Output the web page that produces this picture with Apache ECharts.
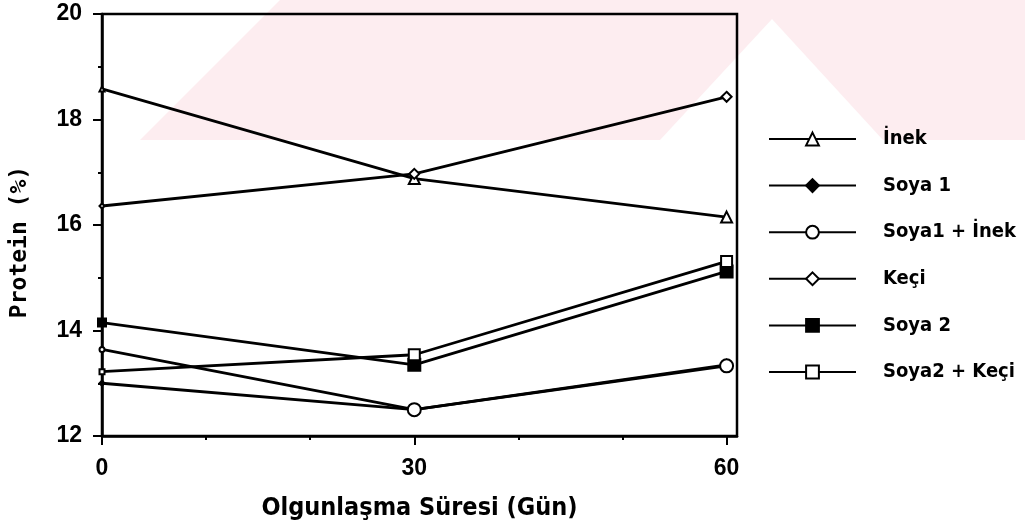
<!DOCTYPE html>
<html>
<head>
<meta charset="utf-8">
<script src="https://cdn.jsdelivr.net/npm/echarts@6/dist/echarts.min.js"></script>
<style>
  html, body { margin: 0; padding: 0; background: #fff; }
  #chart { width: 1025px; height: 529px; }
</style>
</head>
<body>
<div id="chart"></div>
<script>
// olgunlaşma süresi (gün)
const days = [0, 30, 60];
const xLabelTicks = [0, 30, 60];
const xMinorTicks = [10, 20, 40, 50];

// protein (%)
const inek = [18.58, 16.88, 16.15];
const soya1 = [13.0, 12.5, 13.35];
const soya1Inek = [13.64, 12.5, 13.33];
const keci = [16.36, 16.97, 18.43];
const soya2 = [14.15, 13.35, 15.12];
const soya2Keci = [13.22, 13.54, 15.31];

const names = ["İnek", "Soya 1", "Soya1 + İnek", "Keçi", "Soya 2", "Soya2 + Keçi"];

const chart = echarts.init(document.getElementById("chart"));

// x=0 noktaları eksen çizgisinin altında kalıyor, orada küçük çiz
const makeSeries = (name, vals, symbol, size, edgeSize, filled) => ({
  name: name,
  type: "line",
  data: days.map((d, i) => ({
    value: [d, vals[i]],
    symbolSize: i === 0 ? edgeSize : size,
  })),
  symbol: symbol,
  symbolSize: size,
  showAllSymbol: true,
  clip: false,
  lineStyle: { color: "#000", width: 2.8 },
  itemStyle: {
    color: filled ? "#000" : "#fff",
    borderColor: "#000",
    borderWidth: 2,
  },
  emphasis: { disabled: true },
});

chart.setOption({
  animation: false,
  backgroundColor: "#fff",
  graphic: {
    elements: [
      {
        // soluk arka plan filigranı
        type: "polygon",
        z: -100,
        silent: true,
        shape: {
          points: [
            [140, 140], [280, 0], [1025, 0], [1025, 140],
            [883, 140], [772, 19], [660, 140],
          ],
        },
        style: { fill: "#fdedf0" },
      },
    ],
  },
  grid: {
    left: 102,
    top: 14,
    right: 288,
    bottom: 93,
    show: true,
    borderColor: "#000",
    borderWidth: 2.5,
    backgroundColor: "transparent",
  },
  legend: {
    orient: "vertical",
    left: 768,
    top: 129,
    padding: 0,
    itemWidth: 87,
    itemHeight: 16,
    itemGap: 26.6,
    data: names,
    selectedMode: false,
    textStyle: {
      color: "#000",
      fontSize: 20,
      fontWeight: "bold",
      fontFamily: "DejaVu Sans Condensed",
      padding: [0, 0, 0, 22],
    },
  },
  xAxis: [
    {
      type: "value",
      min: 0,
      max: 61,
      name: "Olgunlaşma Süresi (Gün)",
      nameLocation: "middle",
      nameGap: 60,
      nameTextStyle: {
        color: "#000",
        fontSize: 25,
        fontWeight: "bold",
        fontFamily: "DejaVu Sans Condensed",
      },
      axisLine: { lineStyle: { color: "#000", width: 2.5 } },
      axisTick: {
        length: 9,
        customValues: xLabelTicks,
        lineStyle: { color: "#000", width: 2 },
      },
      axisLabel: {
        customValues: xLabelTicks,
        margin: 21,
        color: "#000",
        fontSize: 23,
        fontWeight: "bold",
        fontFamily: "Liberation Sans",
      },
      splitLine: { show: false },
    },
    {
      type: "value",
      min: 0,
      max: 61,
      position: "bottom",
      axisLine: { show: false },
      axisTick: {
        length: 4,
        customValues: xMinorTicks,
        lineStyle: { color: "#000", width: 2 },
      },
      axisLabel: { show: false },
      splitLine: { show: false },
    },
  ],
  yAxis: {
    type: "value",
    min: 12,
    max: 20,
    interval: 2,
    name: "Protein (%)",
    nameLocation: "middle",
    nameGap: 70,
    nameRotate: 90,
    nameTextStyle: {
      color: "#000",
      fontSize: 23,
      fontWeight: "bold",
      fontFamily: "DejaVu Sans Mono",
      padding: [0, 34, 0, 0],
    },
    axisLine: { lineStyle: { color: "#000", width: 2.5 } },
    axisTick: { length: 9, lineStyle: { color: "#000", width: 2 } },
    minorTick: {
      show: true,
      splitNumber: 2,
      length: 4,
      lineStyle: { color: "#000", width: 2 },
    },
    axisLabel: {
      margin: 20,
      color: "#000",
      fontSize: 23,
      fontWeight: "bold",
      fontFamily: "Liberation Sans",
    },
    splitLine: { show: false },
  },
  series: [
    makeSeries(names[0], inek, "triangle", 11, 5, false),
    makeSeries(names[1], soya1, "diamond", 10, 5, true),
    makeSeries(names[2], soya1Inek, "circle", 13, 5, false),
    makeSeries(names[3], keci, "diamond", 10, 5, false),
    makeSeries(names[4], soya2, "rect", 12, 8, true),
    makeSeries(names[5], soya2Keci, "rect", 11, 5, false),
  ],
});
</script>
</body>
</html>
